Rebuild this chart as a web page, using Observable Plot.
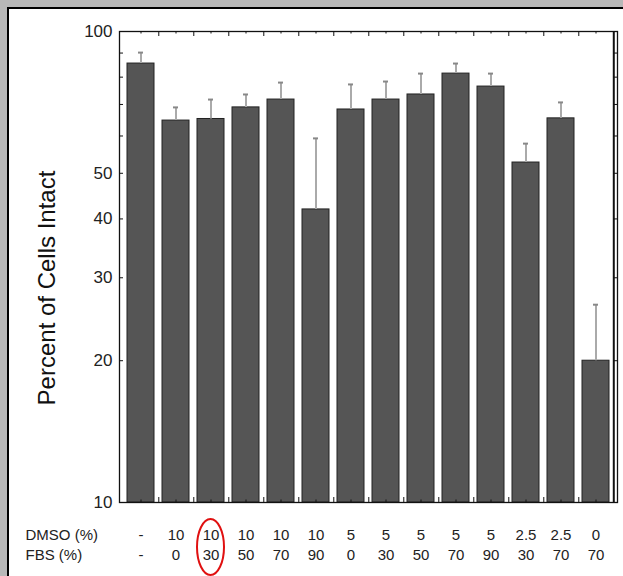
<!DOCTYPE html>
<html>
<head>
<meta charset="utf-8">
<script src="https://cdn.jsdelivr.net/npm/d3@7"></script>
<script src="https://cdn.jsdelivr.net/npm/@observablehq/plot@0.6"></script>
<style>
  html, body { margin: 0; padding: 0; }
  body { width: 623px; height: 576px; background: #b8b8b8; position: relative; overflow: hidden; }
  #panel { position: absolute; left: 7px; top: 7px; width: 640px; height: 600px; background: #fff;
           border-left: 2px solid #000; border-top: 2px solid #000; }
  #chart { position: absolute; left: 0; top: 0; }
</style>
</head>
<body>
<div id="panel"></div>
<div id="chart"></div>
<script>
const categories = ["-/-","10/0","10/30","10/50","10/70","10/90","5/0","5/30","5/50","5/70","5/90","2.5/30","2.5/70","0/70"];
const dmsoLabels = ["-","10","10","10","10","10","5","5","5","5","5","2.5","2.5","0"];
const fbsLabels  = ["-","0","30","50","70","90","0","30","50","70","90","30","70","70"];
const percentIntact = [85.5, 64.7, 65.2, 69.0, 71.7, 41.9, 68.3, 71.7, 73.5, 81.4, 76.4, 52.7, 65.4, 20.0];
const errorTop      = [90.2, 69.0, 71.7, 73.5, 77.9, 59.3, 77.2, 78.3, 81.4, 85.5, 81.4, 57.8, 70.7, 26.3];
const yTickLabels = [10, 20, 30, 40, 50, 100];
const yTickMarks = [20, 30, 40, 50, 60, 70, 80, 90];

const data = categories.map((c, i) => ({cat: c, value: percentIntact[i], err: errorTop[i], dmso: dmsoLabels[i], fbs: fbsLabels[i]}));

const W = 623, H = 576, mL = 119, mR = 6, mT = 31, mB = 74;
const fw = W - mL - mR, fh = H - mT - mB;
const step = fw / categories.length;
const boundaries = categories.slice(0, -1);
const font = "'Liberation Sans', Arial, Helvetica, sans-serif";

const plot = Plot.plot({
  width: W, height: H,
  marginLeft: mL, marginRight: mR, marginTop: mT, marginBottom: mB,
  style: {background: "transparent", fontFamily: font, color: "#222"},
  x: {type: "band", domain: categories, paddingInner: 0.24, paddingOuter: 0.12, axis: null},
  y: {type: "log", domain: [10, 100], axis: null},
  marks: [
    Plot.barY(data, {x: "cat", y1: () => 10, y2: "value", fill: "#555", stroke: "#222", strokeWidth: 1}),
    Plot.ruleX(data, {x: "cat", y1: "value", y2: "err", stroke: "#aaa", strokeWidth: 2}),
    Plot.tickY(data, {x: "cat", y: "err", stroke: "#888", strokeWidth: 2, inset: 11}),
    Plot.frame({stroke: "#111", strokeWidth: 1.3}),
    Plot.ruleX([categories[categories.length - 1]], {x: d => d, dx: step / 2, stroke: "#111", strokeWidth: 2}),
    // y ticks inward, left and right
    Plot.ruleY(yTickMarks, {y: d => d, insetRight: fw - 4, stroke: "#111"}),
    Plot.ruleY(yTickMarks, {y: d => d, insetLeft: fw - 4, stroke: "#111"}),
    // x ticks: short at centers, longer at boundaries, top and bottom
    Plot.ruleX(categories, {x: d => d, insetBottom: fh - 2.5, stroke: "#111"}),
    Plot.ruleX(categories, {x: d => d, insetTop: fh - 2.5, stroke: "#111"}),
    Plot.ruleX(boundaries, {x: d => d, dx: step / 2, insetBottom: fh - 5, stroke: "#111"}),
    Plot.ruleX(boundaries, {x: d => d, dx: step / 2, insetTop: fh - 5, stroke: "#111"}),
    Plot.axisY({ticks: yTickLabels, tickFormat: d => String(d), tickSize: 0, tickPadding: 7, fontSize: 17, label: null, fill: "#222"}),
    Plot.text(["Percent of Cells Intact"], {frameAnchor: "left", textAnchor: "middle", dx: -72, dy: 21, rotate: -90, fontSize: 24, fill: "#111"}),
    Plot.text(data, {x: "cat", frameAnchor: "bottom", text: "dmso", dy: 37, fontSize: 15, fill: "#222"}),
    Plot.text(data, {x: "cat", frameAnchor: "bottom", text: "fbs", dy: 57, fontSize: 15, fill: "#222"}),
    Plot.text(["DMSO (%)"], {frameAnchor: "bottom-left", dx: -94, dy: 37, textAnchor: "start", fontSize: 15, fill: "#222"}),
    Plot.text(["FBS (%)"], {frameAnchor: "bottom-left", dx: -94, dy: 57, textAnchor: "start", fontSize: 15, fill: "#222"})
  ]
});

// red ellipse highlighting the 10 / 30 condition
const xs = plot.scale("x");
const cx = xs.apply("10/30") + xs.bandwidth / 2;
d3.select(plot).append("ellipse")
  .attr("cx", cx).attr("cy", H - mB + 45)
  .attr("rx", 13.5).attr("ry", 28)
  .attr("fill", "none").attr("stroke", "#e01010").attr("stroke-width", 2);

document.getElementById("chart").append(plot);
</script>
</body>
</html>
